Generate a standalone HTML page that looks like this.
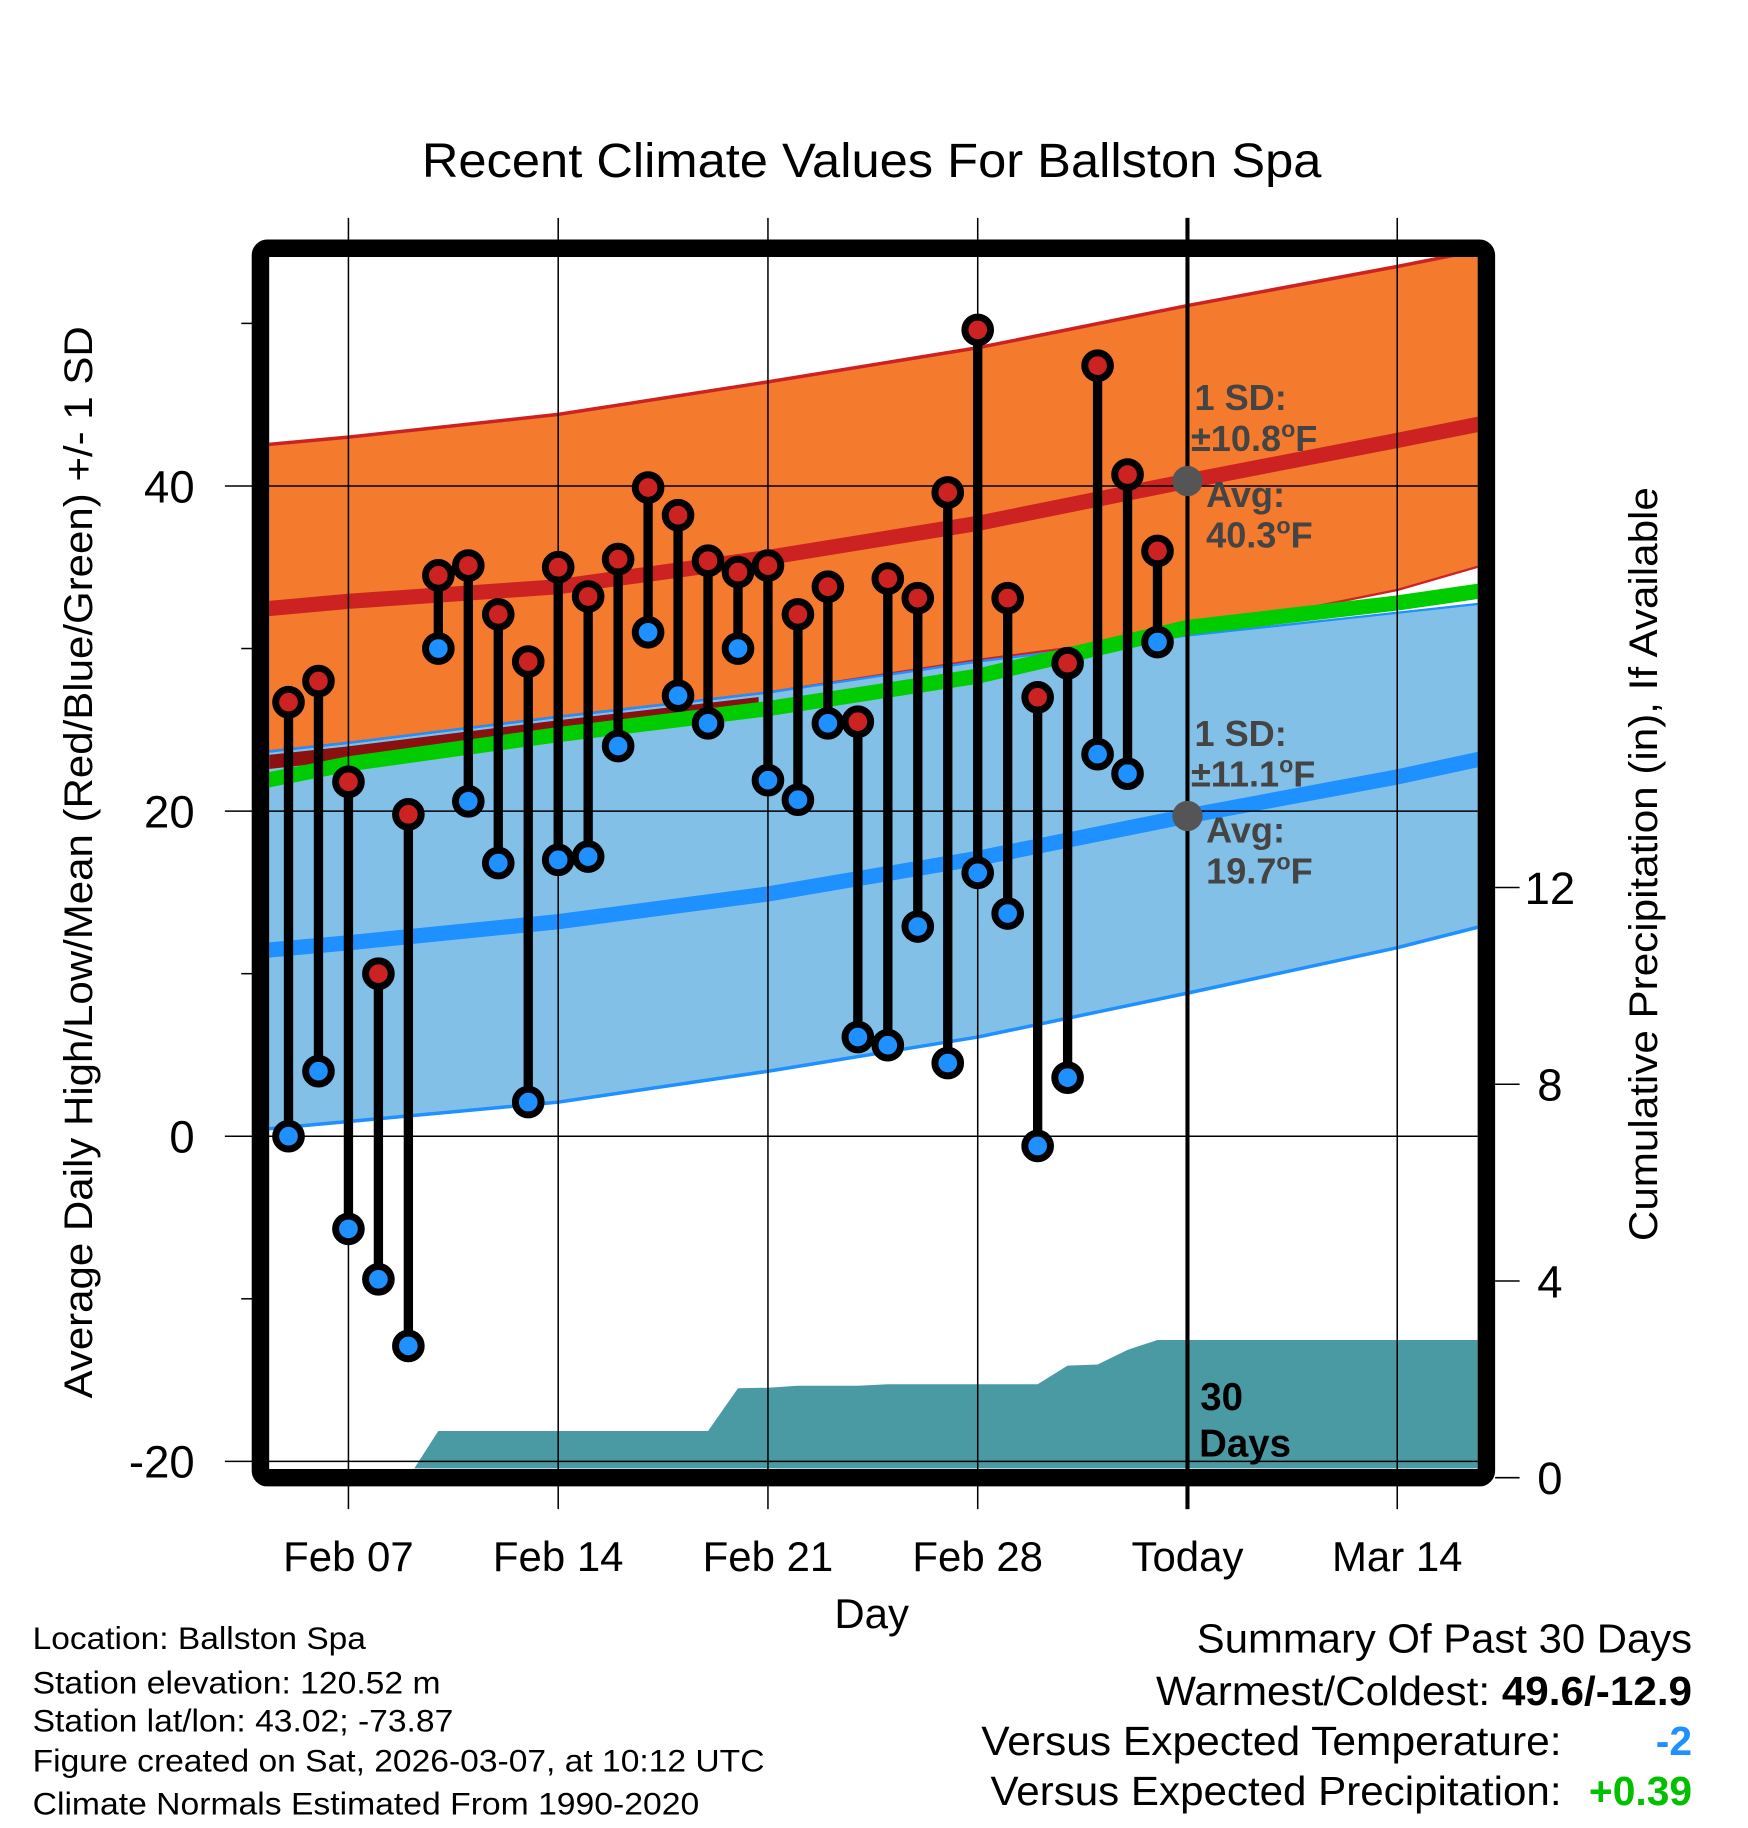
<!DOCTYPE html>
<html><head><meta charset="utf-8"><style>
html,body{margin:0;padding:0;background:#fff;}
svg{display:block;font-family:"Liberation Sans",sans-serif;}
</style></head><body>
<svg id="chart" width="1748" height="1828" viewBox="0 0 1500 1568.6" preserveAspectRatio="none" xmlns="http://www.w3.org/2000/svg">
<defs><clipPath id="plotclip"><rect x="231" y="220" width="1037" height="1040"/></clipPath>
<clipPath id="leftclip"><rect x="231" y="220" width="420" height="1040"/></clipPath></defs>
<g id="bands" clip-path="url(#plotclip)"></g>
<g id="grid"></g>
<g id="marks"></g>
<g id="labels"></g>
</svg>
<script>
// ---- data ----
const normDays = [-3, 0, 7, 14, 21, 28, 35, 38];
const hiAvg = [32.4, 32.9, 33.8, 35.6, 37.7, 40.3, 42.8, 43.9];
const hiUp  = [42.5, 43.0, 44.4, 46.4, 48.5, 51.1, 53.5, 54.6];
const hiLo  = [23.6, 24.2, 25.8, 27.3, 29.3, 31.0, 33.6, 35.2];
const loAvg = [11.4, 11.9, 13.2, 14.9, 17.1, 19.7, 22.1, 23.3];
const loLo  = [0.4, 0.9, 2.1, 4.0, 6.1, 8.8, 11.6, 13.0];
const loUp  = [23.6, 24.2, 25.8, 27.3, 29.2, 30.8, 32.2, 32.8];
const meanT = [21.8, 22.9, 24.7, 26.3, 28.3, 31.3, 32.8, 33.6];
const obsDays = [-2,-1,0,1,2,3,4,5,6,7,8,9,10,11,12,13,14,15,16,17,18,19,20,21,22,23,24,25,26,27];
const highs = [26.7,28.0,21.8,10.0,19.8,34.5,35.1,32.1,29.2,35.0,33.2,35.5,39.9,38.2,35.4,34.7,35.1,32.1,33.8,25.5,34.3,33.1,39.6,49.6,33.1,27.0,29.1,47.4,40.7,36.0];
const lows  = [0.0,4.0,-5.7,-8.8,-12.9,30.0,20.6,16.8,2.1,17.0,17.2,24.0,31.0,27.1,25.4,30.0,21.9,20.7,25.4,6.1,5.6,12.9,4.5,16.2,13.7,-0.6,3.6,23.5,22.3,30.4];
const precip = [0,0,0,0,0,0.95,0.95,0.95,0.95,0.95,0.95,0.95,0.95,0.95,0.95,1.82,1.83,1.87,1.87,1.87,1.9,1.9,1.9,1.9,1.9,1.9,2.28,2.3,2.6,2.8];
const xTickDays = [0, 7, 14, 21, 28, 35];
const xTickLabels = ["Feb 07","Feb 14","Feb 21","Feb 28","Today","Mar 14"];
const yTicks = [-20, 0, 20, 40];
const yMinor = [-10, 10, 30, 50];
const pTicks = [0, 4, 8, 12];

// ---- axes ----
const X = d => 299 + d * (180/7);
const Y = v => 975 - v * 13.95;
const P = p => 1268 - p * 42.2;
const NS = "http://www.w3.org/2000/svg";
function mk(tag, attrs, parent){const e=document.createElementNS(NS,tag);for(const k in attrs)e.setAttribute(k,attrs[k]);parent.appendChild(e);return e;}
const bands=document.getElementById('bands'), grid=document.getElementById('grid'), marks=document.getElementById('marks'), labels=document.getElementById('labels');

function linePts(arr){return normDays.map((d,i)=>X(d).toFixed(1)+','+Y(arr[i]).toFixed(1));}
function bandPath(up,lo){const a=linePts(up), b=linePts(lo).reverse();return 'M'+a.join('L')+'L'+b.join('L')+'Z';}

let e;
e=mk('path',{d:bandPath(hiUp,hiLo),fill:'#f47a2e'},bands);


e=mk('path',{d:bandPath(loUp,loLo),fill:'#82c0e8'},bands);


e=mk('polyline',{points:linePts(hiUp).join(' '),fill:'none',stroke:'#cc2222','stroke-width':3},bands);


e=mk('polyline',{points:linePts(hiLo).join(' '),fill:'none',stroke:'#cc2222','stroke-width':2},bands);


e=mk('polyline',{points:linePts(loUp).join(' '),fill:'none',stroke:'#1e90ff','stroke-width':2},bands);


e=mk('polyline',{points:linePts(loLo).join(' '),fill:'none',stroke:'#1e90ff','stroke-width':3},bands);


e=mk('polyline',{points:linePts(hiLo).join(' '),fill:'none',stroke:'#8b1010','stroke-width':12,transform:'translate(0,9)','clip-path':'url(#leftclip)'},bands);


e=mk('polyline',{points:linePts(meanT).join(' '),fill:'none',stroke:'#00cc00','stroke-width':13},bands);


e=mk('polyline',{points:linePts(hiAvg).join(' '),fill:'none',stroke:'#cc2222','stroke-width':13},bands);


e=mk('polyline',{points:linePts(loAvg).join(' '),fill:'none',stroke:'#1e90ff','stroke-width':13},bands);


// precip area
let pp='M'+X(obsDays[0])+','+P(0);
obsDays.forEach((d,i)=>{pp+='L'+X(d).toFixed(1)+','+P(precip[i]).toFixed(1);});
pp+='L1270,'+P(precip[precip.length-1]).toFixed(1)+'L1270,1270L'+X(obsDays[0])+',1270Z';
e=mk('path',{d:pp,fill:'#4a9aa4'},bands);



// grid
xTickDays.forEach((d,i)=>{
  e=mk('line',{x1:X(d),x2:X(d),y1:187,y2:1295,stroke:'#000','stroke-width':1.3},grid);
  
  
  e=mk('text',{x:X(d),y:1348,'text-anchor':'middle','font-size':36},labels);
  e.textContent=xTickLabels[i];
  
  
});
yTicks.forEach(v=>{
  e=mk('line',{x1:193,x2:1268,y1:Y(v),y2:Y(v),stroke:'#000','stroke-width':1.3},grid);
  
  
  e=mk('text',{x:167,y:Y(v)+14,'text-anchor':'end','font-size':39},labels);
  e.textContent=String(v);
  
  
});
yMinor.forEach(v=>{
  e=mk('line',{x1:207,x2:220,y1:Y(v),y2:Y(v),stroke:'#000','stroke-width':1.3},grid);
  
  
});
pTicks.forEach(p=>{
  e=mk('line',{x1:1283,x2:1304,y1:P(p),y2:P(p),stroke:'#000','stroke-width':1.3},grid);
  
  
  e=mk('text',{x:1330,y:P(p)+14,'text-anchor':'middle','font-size':39},labels);
  e.textContent=String(p);
  
  
});
// today line
e=mk('line',{x1:X(28),x2:X(28),y1:187,y2:1295,stroke:'#000','stroke-width':3.5},grid);



// observed stems and markers
obsDays.forEach((d,i)=>{
  const x=X(d);
  e=mk('line',{x1:x,x2:x,y1:Y(highs[i]),y2:Y(lows[i]),stroke:'#000','stroke-width':8},marks);
  
  
});
obsDays.forEach((d,i)=>{
  const x=X(d);
  e=mk('circle',{cx:x,cy:Y(lows[i]),r:11,fill:'#1e90ff',stroke:'#000','stroke-width':6},marks);
  
  
  e=mk('circle',{cx:x,cy:Y(highs[i]),r:11,fill:'#cc2222',stroke:'#000','stroke-width':6},marks);
  
  
});
e=mk('circle',{cx:X(28),cy:Y(hiAvg[5]),r:13,fill:'#555'},marks);


e=mk('circle',{cx:X(28),cy:Y(loAvg[5]),r:13,fill:'#555'},marks);


</script>
<svg style="position:absolute;left:0;top:0" width="1748" height="1828" viewBox="0 0 1500 1568.6" preserveAspectRatio="none" xmlns="http://www.w3.org/2000/svg" font-family="Liberation Sans, sans-serif">
<rect x="223.5" y="213" width="1052" height="1055" rx="6" fill="none" stroke="#000" stroke-width="15"/>
<text x="362" y="152" textLength="772" lengthAdjust="spacingAndGlyphs" font-size="41">Recent Climate Values For Ballston Spa</text>
<text x="748" y="1397" text-anchor="middle" font-size="36">Day</text>
<text transform="translate(79,1200) rotate(-90)" textLength="920" lengthAdjust="spacingAndGlyphs" font-size="34">Average Daily High/Low/Mean (Red/Blue/Green) +/- 1 SD</text>
<text transform="translate(1422,1065) rotate(-90)" textLength="647" lengthAdjust="spacingAndGlyphs" font-size="34">Cumulative Precipitation (in), If Available</text>
<g font-weight="bold" font-size="31" fill="#444">
<text x="1025" y="352">1 SD:</text>
<text x="1022" y="387">±10.8<tspan font-size="20" dy="-12">o</tspan><tspan dy="12">F</tspan></text>
<text x="1035" y="435">Avg:</text>
<text x="1035" y="470">40.3<tspan font-size="20" dy="-12">o</tspan><tspan dy="12">F</tspan></text>
</g>
<g font-weight="bold" font-size="31" fill="#444">
<text x="1025" y="640">1 SD:</text>
<text x="1022" y="675">±11.1<tspan font-size="20" dy="-12">o</tspan><tspan dy="12">F</tspan></text>
<text x="1035" y="723">Avg:</text>
<text x="1035" y="758">19.7<tspan font-size="20" dy="-12">o</tspan><tspan dy="12">F</tspan></text>
</g>
<g font-weight="bold" font-size="33" fill="#000">
<text x="1030" y="1210">30</text><text x="1029" y="1250">Days</text>
</g>
<g font-size="27" fill="#000" lengthAdjust="spacingAndGlyphs">
<text x="28" y="1415" textLength="286" lengthAdjust="spacingAndGlyphs">Location: Ballston Spa</text>
<text x="28" y="1453" textLength="350" lengthAdjust="spacingAndGlyphs">Station elevation: 120.52 m</text>
<text x="28" y="1486" textLength="361" lengthAdjust="spacingAndGlyphs">Station lat/lon: 43.02; -73.87</text>
<text x="28" y="1520" textLength="628" lengthAdjust="spacingAndGlyphs">Figure created on Sat, 2026-03-07, at 10:12 UTC</text>
<text x="28" y="1557" textLength="572" lengthAdjust="spacingAndGlyphs">Climate Normals Estimated From 1990-2020</text>
</g>
<g font-size="35" fill="#000">
<text x="1027" y="1418" textLength="425" lengthAdjust="spacingAndGlyphs">Summary Of Past 30 Days</text>
<text x="992" y="1463" textLength="460" lengthAdjust="spacingAndGlyphs">Warmest/Coldest: <tspan font-weight="bold">49.6/-12.9</tspan></text>
<text x="842" y="1506" textLength="498" lengthAdjust="spacingAndGlyphs">Versus Expected Temperature:</text>
<text x="1452" y="1506" text-anchor="end" font-weight="bold" fill="#1e90ff">-2</text>
<text x="850" y="1549" textLength="490" lengthAdjust="spacingAndGlyphs">Versus Expected Precipitation:</text>
<text x="1452" y="1549" text-anchor="end" font-weight="bold" fill="#00c000">+0.39</text>
</g>
</svg>
</body></html>
